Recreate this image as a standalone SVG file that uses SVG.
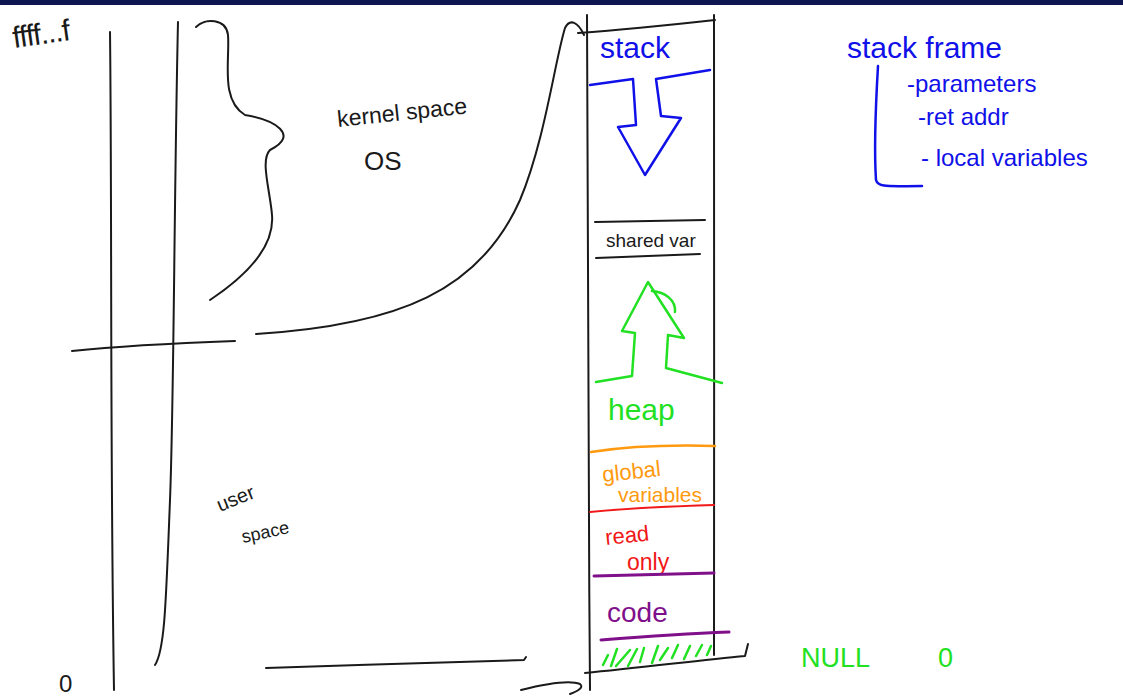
<svg xmlns="http://www.w3.org/2000/svg" width="1123" height="700" viewBox="0 0 1123 700">
<style>
.k{fill:none;stroke:#1a1a1a;stroke-width:2;stroke-linecap:round;stroke-linejoin:round}
.b{fill:none;stroke:#1010e8;stroke-width:2.5;stroke-linecap:round;stroke-linejoin:round}
.g{fill:none;stroke:#22e022;stroke-width:2.5;stroke-linecap:round;stroke-linejoin:round}
.o{fill:none;stroke:#ff9a10;stroke-width:2.5;stroke-linecap:round}
.r{fill:none;stroke:#f01818;stroke-width:2;stroke-linecap:round}
.p{fill:none;stroke:#80108a;stroke-width:3;stroke-linecap:round}
text{font-family:"Liberation Sans","DejaVu Sans",sans-serif}
.tk{fill:#1a1a1a}
.tb{fill:#1010e8}
.tg{fill:#22e022}
.to{fill:#ff9a10}
.tr{fill:#f01818}
.tp{fill:#80108a}
</style>
<rect x="0" y="0" width="1123" height="700" fill="#ffffff"/>
<rect x="0" y="0" width="1123" height="5" fill="#0d1650"/>

<g id="axis">
<text class="tk" x="14" y="48" transform="rotate(-8 14 48)" style="font-size:30px;letter-spacing:-1px">ffff...f</text>
<path class="k" d="M110 32 C112 200 110 450 114 690"/>
<path class="k" d="M178 22 C174 200 174 400 170 500 C166 600 165 650 155 665"/>
<path class="k" d="M196 27 C205 18 226 18 228 35 C230 60 220 100 245 115 C275 120 300 135 270 150 C260 160 270 190 272 215 C275 250 240 280 210 300"/>
<path class="k" d="M72 351 C120 346 180 343 235 341"/>
<path class="k" d="M256 334 C400 325 480 290 520 200 C545 140 555 60 565 28 C570 18 578 22 584 35"/>
<path class="k" d="M266 668 C350 665 450 662 524 660 L526 657"/>
<path class="k" d="M521 690 C545 684 570 680 580 684 C585 688 575 692 570 694"/>
<text class="tk" x="59" y="692" style="font-size:24px">0</text>
</g>

<g id="kernel-label">
<text class="tk" x="338" y="127" transform="rotate(-6 338 127)" style="font-size:23px">kernel space</text>
<text class="tk" x="364" y="170" style="font-size:26px">OS</text>
</g>

<g id="user-label">
<text class="tk" x="220" y="512" transform="rotate(-22 220 512)" style="font-size:20px">user</text>
<text class="tk" x="243" y="543" transform="rotate(-12 243 543)" style="font-size:18px">space</text>
</g>

<g id="memory-column">
<path class="k" d="M587 15 C588 200 588 450 590 690"/>
<path class="k" d="M714 15 C713 200 715 450 714 655"/>
<path class="k" d="M578 33 C620 30 670 25 715 20"/>
<path class="k" d="M585 673 C640 668 700 660 745 656 L748 644"/>
</g>

<g id="stack">
<text class="tb" x="600" y="58" style="font-size:30px">stack</text>
<path class="b" d="M590 85 L633 79 L636 125 L618 127 L645 175 L681 118 L661 116 L656 79 L710 70"/>
</g>

<g id="shared-var">
<path class="k" d="M595 222 L705 220"/>
<text class="tk" x="606" y="247" style="font-size:19px">shared var</text>
<path class="k" d="M596 258 L700 254"/>
</g>

<g id="heap">
<path class="g" d="M596 382 L632 376 L635 333 L622 331 L648 282 L684 338 L668 335 L666 368 L722 383"/>
<path class="g" d="M652 291 C665 292 676 300 675 312"/>
<text class="tg" x="608" y="420" style="font-size:30px">heap</text>
</g>

<g id="global-variables">
<path class="o" d="M591 452 C630 446 680 445 715 446"/>
<text class="to" x="603" y="482" transform="rotate(-6 603 482)" style="font-size:22px">global</text>
<text class="to" x="618" y="502" style="font-size:21px">variables</text>
</g>

<g id="read-only">
<path class="r" d="M590 512 C630 508 680 506 714 505"/>
<text class="tr" x="606" y="545" transform="rotate(-6 606 545)" style="font-size:22px">read</text>
<text class="tr" x="627" y="570" style="font-size:23px">only</text>
</g>

<g id="code">
<path class="p" d="M594 576 L714 573"/>
<text class="tp" x="607" y="622" style="font-size:28px">code</text>
<path class="p" d="M601 640 C650 636 700 633 729 632"/>
</g>

<g id="null-region">
<path class="g" d="M603 665 L608 655 M611 666 L617 649 M616 666 L630 650 M628 666 L637 649 M640 662 L644 648 M652 663 L658 646 M660 660 L668 648 M672 658 L678 645 M684 659 L690 646 M696 656 L702 645 M707 655 L711 646"/>
<text class="tg" x="801" y="667" style="font-size:27px">NULL</text>
<text class="tg" x="938" y="667" style="font-size:27px">0</text>
</g>

<g id="stack-frame">
<text class="tb" x="847" y="58" style="font-size:30px">stack frame</text>
<path class="b" d="M878 66 C876 100 874 150 876 180 C878 188 890 186 922 186"/>
<text class="tb" x="907" y="92" style="font-size:24px">-parameters</text>
<text class="tb" x="918" y="125" style="font-size:24px">-ret addr</text>
<text class="tb" x="921" y="166" style="font-size:24px">- local variables</text>
</g>
</svg>
